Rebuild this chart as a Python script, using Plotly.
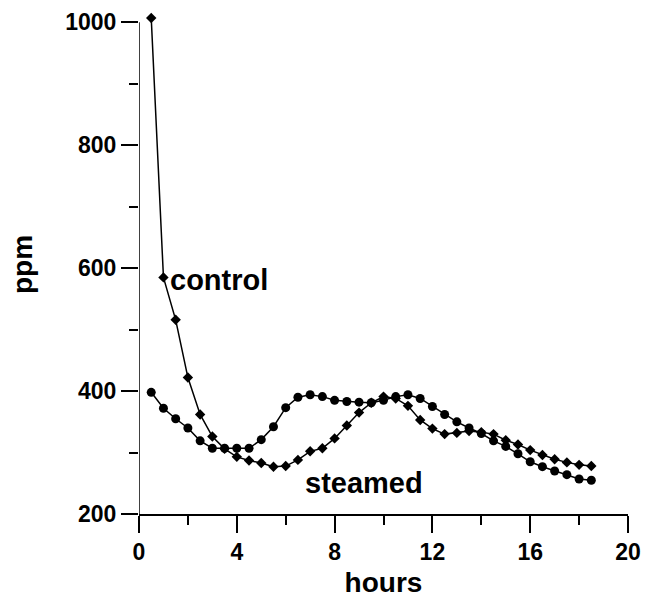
import plotly.graph_objects as go

hours = [0.5 * i for i in range(1, 38)]
control = [1007, 585, 516, 422, 362, 326, 306, 293, 287, 283, 277, 278, 288, 302,
           307, 323, 344, 365, 381, 391, 388, 376, 353, 339, 330, 332, 335, 333,
           330, 320, 313, 304, 296, 289, 284, 280, 278]
steamed = [398, 372, 355, 340, 319, 307, 307, 307, 307, 321, 342, 373, 390, 394,
           391, 385, 383, 382, 381, 385, 391, 394, 388, 375, 362, 350, 340, 331,
           319, 310, 298, 285, 277, 270, 264, 257, 255]
x_ticks = [0, 4, 8, 12, 16, 20]
y_ticks = [200, 400, 600, 800, 1000]

FONT = "Liberation Sans, Arial, sans-serif"
Y_MIN, Y_MAX = 200, 1000
Y_VIEW_TOP = 1012  # a little headroom so the first control point is visible

fig = go.Figure()
fig.add_trace(go.Scatter(x=hours, y=steamed, mode="lines+markers", name="steamed",
                         cliponaxis=False,
                         line=dict(color="black", width=1.5),
                         marker=dict(symbol="circle", size=9, color="black")))
fig.add_trace(go.Scatter(x=hours, y=control, mode="lines+markers", name="control",
                         cliponaxis=False,
                         line=dict(color="black", width=1.5),
                         marker=dict(symbol="diamond", size=8, color="black")))

fig.add_annotation(x=1.17, y=580, text="<b>control</b>", showarrow=False,
                   xanchor="left", yanchor="middle",
                   font=dict(family=FONT, size=29, color="black"))
fig.add_annotation(x=9.2, y=251, text="<b>steamed</b>", showarrow=False,
                   xanchor="center", yanchor="middle",
                   font=dict(family=FONT, size=29, color="black"))

# y axis line drawn only from 200 to 1000
fig.add_shape(type="line", xref="x", yref="y", x0=0, x1=0, y0=Y_MIN, y1=Y_MAX,
              line=dict(color="black", width=1.5), layer="above")

axis_common = dict(showgrid=False, zeroline=False, linecolor="black",
                   linewidth=1.5, ticks="outside", ticklen=17, tickwidth=1.5,
                   tickcolor="black", automargin=False,
                   tickfont=dict(family=FONT, size=23, color="black"),
                   minor=dict(ticks="outside", ticklen=9, tickwidth=1.5,
                              tickcolor="black", showgrid=False))

fig.update_xaxes(range=[0, 20], tickvals=x_ticks, ticktext=[f"<b>{v}</b>" for v in x_ticks],
                 minor_dtick=2, showline=True,
                 title=dict(text="<b>hours</b>", font=dict(family=FONT, size=28, color="black"),
                            standoff=8),
                 **axis_common)
fig.update_yaxes(range=[Y_MIN, Y_VIEW_TOP], tickvals=y_ticks,
                 ticktext=[f"<b>{v}</b>" for v in y_ticks],
                 minor_dtick=100, showline=False,
                 title=dict(text="<b>ppm</b>", font=dict(family=FONT, size=28, color="black"),
                            standoff=24),
                 **axis_common)

fig.update_layout(width=647, height=601, showlegend=False,
                  plot_bgcolor="white", paper_bgcolor="white",
                  margin=dict(l=139, r=19, t=15, b=87))

fig.write_html("out.html")
